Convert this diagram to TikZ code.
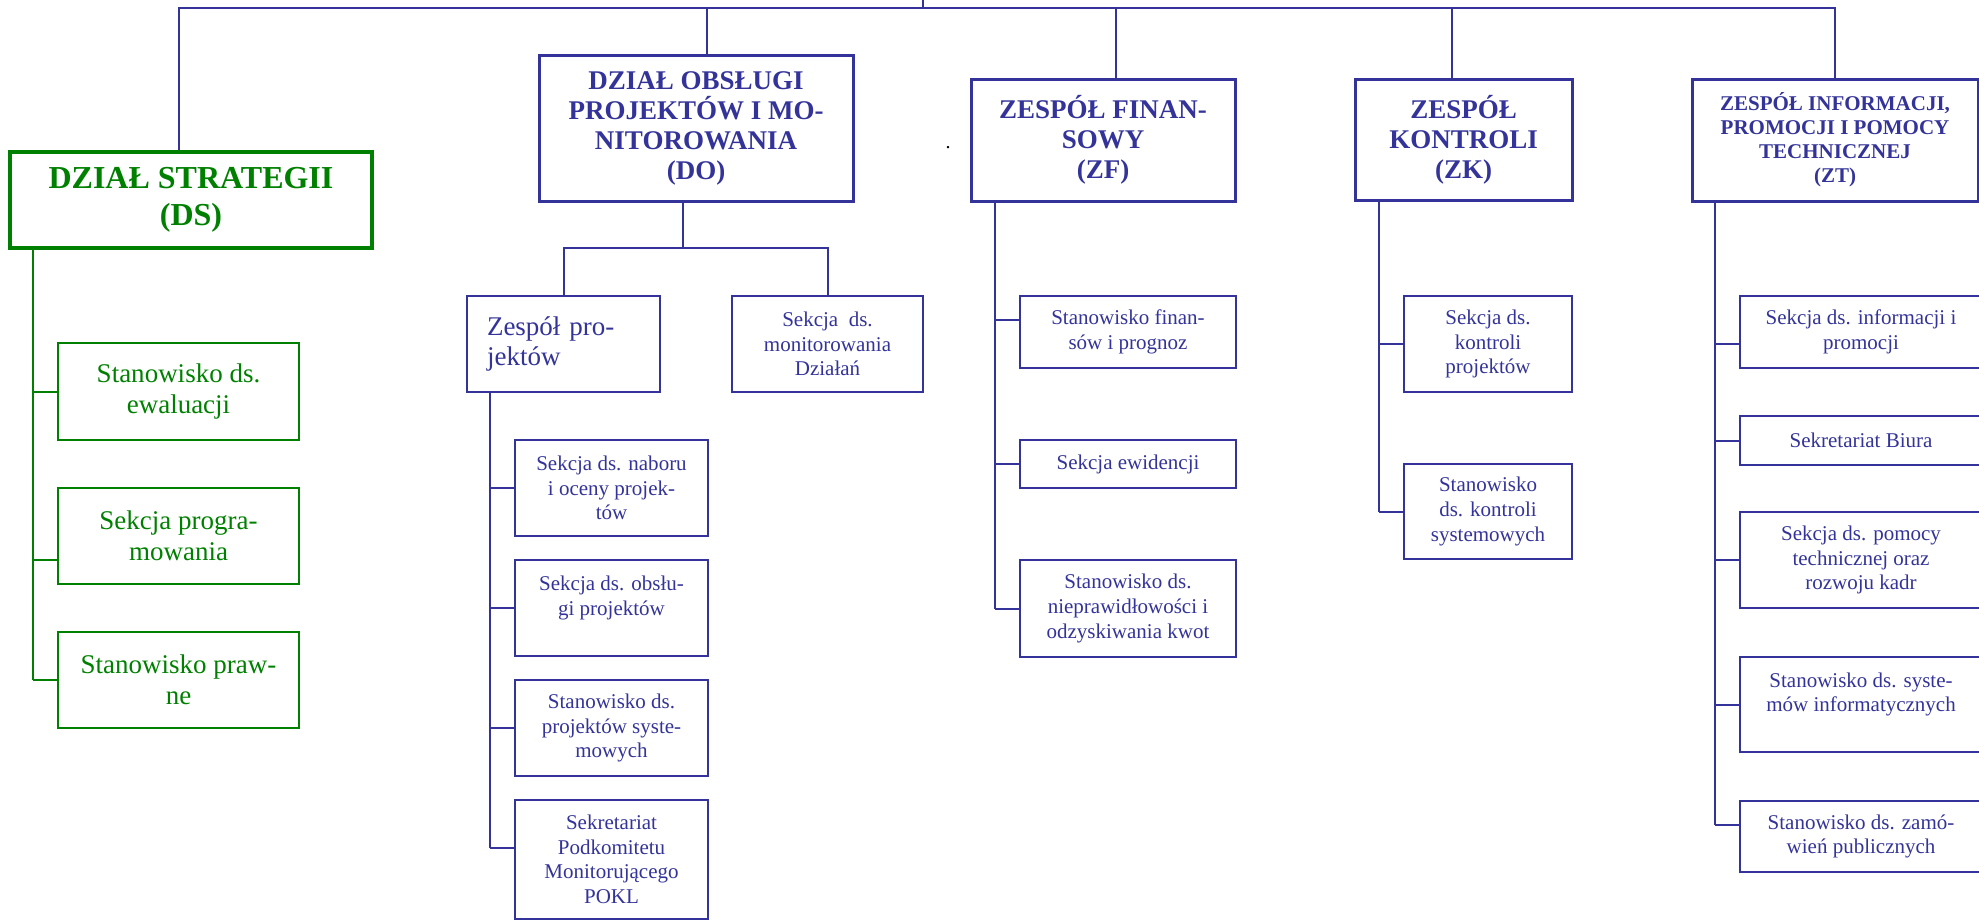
\documentclass[tikz,border=0pt]{standalone}
\usepackage{fontspec}
\setmainfont{Liberation Serif}
\definecolor{orgblue}{RGB}{51,51,153}
\definecolor{orggreen}{RGB}{0,128,0}

\begin{document}
\begin{tikzpicture}[x=0.5pt, y=-0.5pt,
    head/.style={draw=orgblue, line width=1.5pt, text=orgblue, align=center, inner sep=0pt, font=\bfseries\fontsize{13.5}{15}\selectfont},
    unit/.style={draw=orgblue, line width=1pt, text=orgblue, align=center, inner sep=0pt, font=\fontsize{10.5}{12.3}\selectfont},
    gunit/.style={unit, draw=orggreen, text=orggreen, font=\fontsize{13.5}{15.3}\selectfont},
    link/.style={draw=orgblue, line width=1pt},
    glink/.style={link, draw=orggreen}]
    \useasboundingbox (0,0) rectangle (1979,921);

    % Departments
    \node[head, draw=orggreen, text=orggreen, line width=1.8pt, minimum width=181pt, minimum height=48pt, font=\bfseries\fontsize{16}{18.5}\selectfont] (ds) at (191,200) {DZIAŁ STRATEGII\\(DS)};
    \node[head, minimum width=157pt, minimum height=73pt] (do) at (696,128) {DZIAŁ OBSŁUGI\\PROJEKTÓW I MO-\\NITOROWANIA\\(DO)};
    \node[head, minimum width=132pt, minimum height=61pt] (zf) at (1103,140) {ZESPÓŁ FINAN-\\SOWY\\(ZF)};
    \node[head, minimum width=108.5pt, minimum height=60.5pt] (zk) at (1463.5,140) {ZESPÓŁ\\KONTROLI\\(ZK)};
    \node[head, minimum width=143pt, minimum height=61pt, font=\bfseries\fontsize{10.5}{12}\selectfont] (zt) at (1835,140) {ZESPÓŁ INFORMACJI,\\PROMOCJI I POMOCY\\TECHNICZNEJ\\(ZT)};
    \node[font=\fontsize{10}{12}\selectfont] (dot) at (948,148) {.};

    % DS units
    \node[gunit, minimum width=120.5pt, minimum height=48.5pt] (ds1) at (178.5,391.5) {Stanowisko ds.\\ewaluacji};
    \node[gunit, minimum width=120.5pt, minimum height=48pt] (ds2) at (178.5,536) {Sekcja progra-\\mowania};
    \node[gunit, minimum width=120.5pt, minimum height=48pt] (ds3) at (178.5,680) {Stanowisko praw-\\ne};

    % DO units
    \node[unit, minimum width=96.5pt, minimum height=48pt, align=left, text width=76.5pt, font=\fontsize{13.5}{15}\selectfont] (zp) at (563.5,344) {Zespół pro-\\jektów};
    \node[unit, minimum width=95.5pt, minimum height=48pt] (sm) at (827.5,344) {Sekcja~~ds.\\monitorowania\\Działań};
    \node[unit, minimum width=96.5pt, minimum height=48pt] (p1) at (611.5,488) {Sekcja ds. naboru\\i oceny projek-\\tów};
    \node[unit, minimum width=96.5pt, minimum height=48pt] (p2) at (611.5,608) {Sekcja ds. obsłu-\\gi projektów\\~};
    \node[unit, minimum width=96.5pt, minimum height=48pt] (p3) at (611.5,728) {Stanowisko ds.\\projektów syste-\\mowych};
    \node[unit, minimum width=96.5pt, minimum height=59.5pt] (p4) at (611.5,859.5) {Sekretariat\\Podkomitetu\\Monitorującego\\POKL};

    % ZF units
    \node[unit, minimum width=108pt, minimum height=36pt] (f1) at (1128,332) {Stanowisko finan-\\sów i prognoz};
    \node[unit, minimum width=108pt, minimum height=24pt] (f2) at (1128,464) {Sekcja ewidencji};
    \node[unit, minimum width=108pt, minimum height=48.5pt] (f3) at (1128,608.5) {Stanowisko ds.\\nieprawidłowości i\\odzyskiwania kwot};

    % ZK units
    \node[unit, minimum width=84pt, minimum height=48pt] (k1) at (1488,344) {Sekcja ds.\\kontroli\\projektów};
    \node[unit, minimum width=84pt, minimum height=47.5pt] (k2) at (1488,511.5) {Stanowisko\\ds. kontroli\\systemowych};

    % ZT units
    \node[unit, minimum width=121pt, minimum height=36pt] (t1) at (1861,332) {Sekcja ds. informacji i\\promocji};
    \node[unit, minimum width=121pt, minimum height=24.5pt] (t2) at (1861,440.5) {Sekretariat Biura};
    \node[unit, minimum width=121pt, minimum height=48pt] (t3) at (1861,560) {Sekcja ds. pomocy\\technicznej oraz\\rozwoju kadr};
    \node[unit, minimum width=121pt, minimum height=47.5pt] (t4) at (1861,704.5) {Stanowisko ds. syste-\\mów informatycznych\\~};
    \node[unit, minimum width=121pt, minimum height=35.5pt] (t5) at (1861,836.5) {Stanowisko ds. zamó-\\wień publicznych};

    % Top line
    \coordinate (root) at (923,0);
    \coordinate (bus) at (923,8);
    \draw[link] (root) -- (bus);
    \draw[link] ([xshift=-6pt]ds.north) |- (zt.north |- bus) -- (zt.north);
    \draw[link] ([xshift=5.5pt]do.north) -- ([xshift=5.5pt]do.north |- bus);
    \draw[link] ([xshift=6.5pt]zf.north) -- ([xshift=6.5pt]zf.north |- bus);
    \draw[link] ([xshift=-5.75pt]zk.north) -- ([xshift=-5.75pt]zk.north |- bus);

    % DS
    \coordinate (dsx) at ([xshift=12.5pt]ds.south west);
    \draw[glink] (dsx) -- (dsx |- ds3.west);
    \foreach \n/\dy in {ds1/0pt, ds2/-12pt, ds3/0pt}
        \draw[glink] ([yshift=\dy]dsx |- \n.west) -- ([yshift=\dy]\n.west);

    % DO
    \coordinate (dofork) at (683,248);
    \draw[link] ([xshift=-6.5pt]do.south) -- (dofork);
    \draw[link] (zp.north) |- (dofork) -| (sm.north);
    \coordinate (zpx) at ([xshift=12pt]zp.south west);
    \draw[link] (zpx) -- ([yshift=5.75pt]zpx |- p4.west);
    \foreach \n/\dy in {p1/0pt, p2/0pt, p3/0pt, p4/5.75pt}
        \draw[link] ([yshift=\dy]zpx |- \n.west) -- ([yshift=\dy]\n.west);

    % ZF
    \coordinate (zfx) at ([xshift=12.5pt]zf.south west);
    \draw[link] (zfx) -- (zfx |- f3.west);
    \foreach \n/\dy in {f1/6pt, f2/0pt, f3/0pt}
        \draw[link] ([yshift=\dy]zfx |- \n.west) -- ([yshift=\dy]\n.west);

    % ZK
    \coordinate (zkx) at ([xshift=12.5pt]zk.south west);
    \draw[link] (zkx) -- (zkx |- k2.west);
    \foreach \n/\dy in {k1/0pt, k2/0pt}
        \draw[link] ([yshift=\dy]zkx |- \n.west) -- ([yshift=\dy]\n.west);

    % ZT
    \coordinate (ztx) at ([xshift=12pt]zt.south west);
    \draw[link] (ztx) -- ([yshift=5.75pt]ztx |- t5.west);
    \foreach \n/\dy in {t1/-6pt, t2/0pt, t3/0pt, t4/0pt, t5/5.75pt}
        \draw[link] ([yshift=\dy]ztx |- \n.west) -- ([yshift=\dy]\n.west);
\end{tikzpicture}
\end{document}
